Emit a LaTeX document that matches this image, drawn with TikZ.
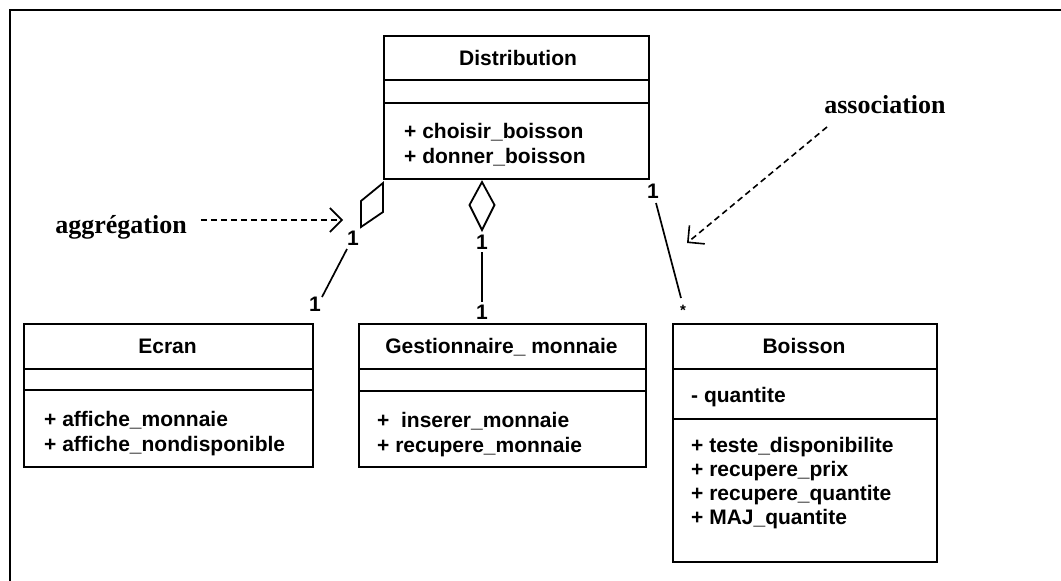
\documentclass[tikz,border=0pt]{standalone}
\usepackage{fontspec}
\setmainfont{Liberation Sans}
\newfontfamily\notefont{Liberation Serif}
\usetikzlibrary{arrows.meta}

\tikzset{
  classbox/.style={draw, line width=2.2pt, rectangle, inner sep=0pt, anchor=north west},
  divider/.style={line width=1.7pt},
  title/.style={font=\fontsize{21}{24}\selectfont\bfseries, inner sep=0pt, anchor=base},
  member/.style={font=\fontsize{21}{24}\selectfont\bfseries, inner sep=0pt, anchor=base west},
  mult/.style={font=\fontsize{21}{22}\selectfont\bfseries, inner sep=0pt, anchor=base},
  note/.style={font=\fontsize{26}{30}\selectfont\notefont\bfseries, inner sep=0pt, anchor=base},
  link/.style={line width=1.7pt},
  hollow/.style={line width=1.8pt, line join=miter, fill=white},
  pointer/.style={line width=1.6pt, dash pattern=on 6pt off 4pt,
    -{Straight Barb[length=12pt, width=24pt, line width=1.6pt]}}
}

\begin{document}
\begin{tikzpicture}[x=1pt, y=-1pt]
\useasboundingbox (0,0) rectangle (1061,581);

% outer frame
\draw[line width=2.5pt] (10,10) rectangle (1080,600);

% class Distribution
\node[classbox, minimum width=265pt, minimum height=143pt] (dist) at (383,35) {};
\draw[divider] (dist.west |- 0,80) -- (dist.east |- 0,80);
\draw[divider] (dist.west |- 0,103) -- (dist.east |- 0,103);
\node[title] (distT) at (518,65) {Distribution};
\node[member] (distM1) at (404,138) {+ choisir\_boisson};
\node[member] (distM2) at (404,163) {+ donner\_boisson};

% class Ecran
\node[classbox, minimum width=289pt, minimum height=143pt] (ecran) at (23,323) {};
\draw[divider] (ecran.west |- 0,369) -- (ecran.east |- 0,369);
\draw[divider] (ecran.west |- 0,390) -- (ecran.east |- 0,390);
\node[title] (ecranT) at (167.5,353) {Ecran};
\node[member] (ecranM1) at (44,426) {+ affiche\_monnaie};
\node[member] (ecranM2) at (44,451) {+ affiche\_nondisponible};

% class Gestionnaire_ monnaie
\node[classbox, minimum width=287pt, minimum height=143pt] (gest) at (358,323) {};
\draw[divider] (gest.west |- 0,369) -- (gest.east |- 0,369);
\draw[divider] (gest.west |- 0,391) -- (gest.east |- 0,391);
\node[title] (gestT) at (501.5,353) {Gestionnaire\_ monnaie};
\node[member] (gestM1) at (377,427) {+\ \ inserer\_monnaie};
\node[member] (gestM2) at (377,452) {+ recupere\_monnaie};

% class Boisson
\node[classbox, minimum width=264pt, minimum height=238pt] (boi) at (672,323) {};
\draw[divider] (boi.west |- 0,369) -- (boi.east |- 0,369);
\draw[divider] (boi.west |- 0,419) -- (boi.east |- 0,419);
\node[title] (boiT) at (804,353) {Boisson};
\node[member] (boiA) at (691,402) {- quantite};
\node[member] (boiM1) at (691,452) {+ teste\_disponibilite};
\node[member] (boiM2) at (691,476) {+ recupere\_prix};
\node[member] (boiM3) at (691,500) {+ recupere\_quantite};
\node[member] (boiM4) at (691,524) {+ MAJ\_quantite};

% aggregation Distribution -- Ecran
\coordinate (aggL) at (347,249);
\coordinate (ecranEnd) at (322,297);
\draw[hollow] (383,183) -- (383,212) -- (361,227) -- (361,201) -- cycle;
\draw[link] (aggL) -- (ecranEnd);
\node[mult] (mAggL) at (353,245) {1};
\node[mult] (mEcran) at (315,311) {1};

% aggregation Distribution -- Gestionnaire_ monnaie
\coordinate (aggM) at (482,252);
\coordinate (gestEnd) at (482,302);
\draw[hollow] (482,182) -- (494.5,205) -- (482,230) -- (469.5,205) -- cycle;
\draw[link] (aggM) -- (gestEnd);
\node[mult] (mAggM) at (482,249) {1};
\node[mult] (mGest) at (482,319) {1};

% association Distribution -- Boisson
\coordinate (assocA) at (656,203);
\coordinate (assocB) at (681,298);
\draw[link] (assocA) -- (assocB);
\node[mult] (mDist) at (653,198) {1};
\node[font=\fontsize{15}{16}\selectfont\bfseries, inner sep=0pt] (mBoi) at (683,310) {*};

% notes
\node[note] (noteAgg) at (121,233) {aggrégation};
\node[note] (noteAssoc) at (885,113) {association};
\coordinate (aggTip) at (343,220);
\coordinate (assocTip) at (687,243);
\draw[pointer] (noteAgg.east |- 0,220) ++(14,0) -- (aggTip);
\draw[pointer] (827,127) -- (assocTip);
\end{tikzpicture}
\end{document}
